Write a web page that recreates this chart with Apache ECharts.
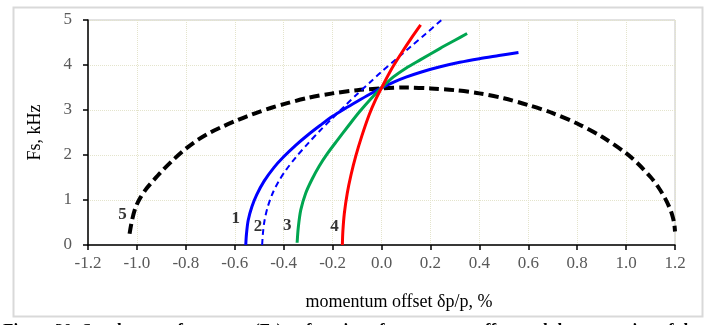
<!DOCTYPE html>
<html>
<head>
<meta charset="utf-8">
<script src="https://cdn.jsdelivr.net/npm/echarts@6/dist/echarts.min.js"></script>
<style>
  html, body { margin: 0; padding: 0; background: #fff; }
  #chart { width: 709px; height: 325px; }
</style>
</head>
<body>
<div id="chart"></div>
<script>
// Synchrotron frequency vs momentum offset, one curve per lattice case.
var curve1 = [[-0.555,0],[-0.552,0.25],[-0.545,0.55],[-0.53,0.85],[-0.51,1.12],[-0.48,1.42],[-0.44,1.72],[-0.40,1.96],[-0.35,2.22],[-0.30,2.45],[-0.25,2.66],[-0.20,2.86],[-0.15,3.03],[-0.10,3.19],[-0.05,3.345],[0,3.49],[0.05,3.62],[0.10,3.73],[0.16,3.84],[0.24,3.96],[0.32,4.06],[0.40,4.14],[0.48,4.21],[0.56,4.28]];
var curve2 = [[-0.488,0],[-0.485,0.25],[-0.478,0.55],[-0.465,0.85],[-0.445,1.15],[-0.42,1.42],[-0.39,1.67],[-0.35,1.95],[-0.30,2.26],[-0.25,2.55],[-0.20,2.82],[-0.15,3.09],[-0.10,3.35],[-0.05,3.60],[0,3.85],[0.06,4.13],[0.12,4.41],[0.18,4.69],[0.245,5.0]];
var curve3 = [[-0.345,0.05],[-0.34,0.40],[-0.33,0.78],[-0.31,1.15],[-0.285,1.45],[-0.255,1.75],[-0.22,2.04],[-0.18,2.33],[-0.135,2.65],[-0.09,2.96],[-0.045,3.24],[0,3.49],[0.05,3.74],[0.10,3.93],[0.16,4.12],[0.24,4.37],[0.30,4.55],[0.35,4.70]];
var curve4 = [[-0.16,0],[-0.158,0.3],[-0.152,0.7],[-0.14,1.15],[-0.125,1.55],[-0.105,1.98],[-0.08,2.43],[-0.05,2.90],[-0.025,3.22],[0,3.49],[0.04,3.90],[0.08,4.25],[0.12,4.58],[0.16,4.89]];
var curve5 = [[-1.03,0.25],[-1.02,0.55],[-1.005,0.84],[-0.985,1.06],[-0.96,1.26],[-0.93,1.45],[-0.90,1.63],[-0.85,1.90],[-0.80,2.14],[-0.75,2.34],[-0.70,2.50],[-0.65,2.63],[-0.60,2.75],[-0.55,2.86],[-0.50,2.96],[-0.45,3.05],[-0.40,3.13],[-0.30,3.27],[-0.20,3.37],[-0.10,3.44],[0,3.48],[0.10,3.50],[0.20,3.48],[0.30,3.44],[0.40,3.37],[0.50,3.26],[0.60,3.11],[0.70,2.93],[0.80,2.70],[0.90,2.41],[1.00,2.04],[1.05,1.80],[1.10,1.51],[1.13,1.30],[1.16,1.03],[1.18,0.80],[1.19,0.64],[1.197,0.47],[1.20,0.30]];

// Curve numbers and where they sit (data coordinates)
var tagNames = ['1', '2', '3', '4', '5'];
var tagSpots = [[-0.596,0.59],[-0.505,0.41],[-0.385,0.44],[-0.192,0.41],[-1.059,0.67]];

var xTicks = { min: -1.2, max: 1.2, step: 0.2 };
var yTicks = { min: 0, max: 5, step: 1 };

var serif = 'Liberation Serif, Times New Roman, serif';

function curve(data, color, width, type) {
  return {
    type: 'line', data: data, smooth: 0.3,
    showSymbol: false, silent: true,
    lineStyle: { color: color, width: width, type: type, cap: 'butt' },
    z: 3
  };
}

var chart = echarts.init(document.getElementById('chart'), null, { renderer: 'canvas' });
chart.setOption({
  backgroundColor: '#ffffff',
  animation: false,
  grid: {
    left: 88, right: 34, top: 20, bottom: 80,
    show: true, borderColor: '#c4c4c4', borderWidth: 1, backgroundColor: 'transparent'
  },
  xAxis: {
    type: 'value', min: xTicks.min, max: xTicks.max, interval: xTicks.step,
    axisLine: { show: true, onZero: false, lineStyle: { color: '#000', width: 1.5 } },
    axisTick: { show: true, inside: false, length: 5, lineStyle: { color: '#000', width: 1.5 } },
    axisLabel: {
      color: '#595959', fontFamily: serif, fontSize: 17, margin: 10,
      formatter: function (v) { return v.toFixed(1); }
    },
    splitLine: { show: true, lineStyle: { color: '#e4e4cc', type: 'dotted', width: 1 } }
  },
  yAxis: {
    type: 'value', min: yTicks.min, max: yTicks.max, interval: yTicks.step,
    name: 'Fs, kHz', nameLocation: 'middle', nameGap: 44,
    nameTextStyle: { color: '#000', fontFamily: serif, fontSize: 18 },
    axisLine: { show: true, onZero: false, lineStyle: { color: '#000', width: 1.5 } },
    axisTick: { show: true, inside: false, length: 5, lineStyle: { color: '#000', width: 1.5 } },
    axisLabel: { color: '#595959', fontFamily: serif, fontSize: 17, margin: 16 },
    splitLine: { show: true, lineStyle: { color: '#e4e4cc', type: 'dotted', width: 1 } }
  },
  graphic: [
    {
      type: 'rect', silent: true, z: -1,
      shape: { x: 13.5, y: 7.5, width: 689, height: 309 },
      style: { fill: 'none', stroke: '#d9d9d9', lineWidth: 2 }
    },
    {
      type: 'text', silent: true, x: 399, y: 302,
      style: {
        text: 'momentum offset δp/p, %', fill: '#000', font: '18px ' + serif,
        textAlign: 'center', textVerticalAlign: 'middle'
      }
    },
    {
      type: 'text', silent: true, x: 3, y: 322,
      style: {
        text: 'Figure 20: Synchrotron frequency (Fs) as function of momentum offset and the separation of the',
        fill: '#000', font: 'bold 17px ' + serif, textAlign: 'left', textVerticalAlign: 'top'
      }
    }
  ],
  series: [
    curve(curve5, '#000000', 4, [10, 5]),
    curve(curve1, '#0000ff', 3, 'solid'),
    curve(curve2, '#0000ff', 2, [6, 4]),
    curve(curve3, '#00a650', 3, 'solid'),
    curve(curve4, '#ff0000', 3, 'solid'),
    {
      type: 'scatter', silent: true, symbolSize: 0, z: 4,
      data: tagSpots.map(function (p, i) { return { value: p, name: tagNames[i] }; }),
      label: {
        show: true, position: 'inside', formatter: '{b}',
        color: '#000', fontFamily: serif, fontSize: 17, fontWeight: 'bold'
      }
    }
  ]
});
</script>
</body>
</html>
